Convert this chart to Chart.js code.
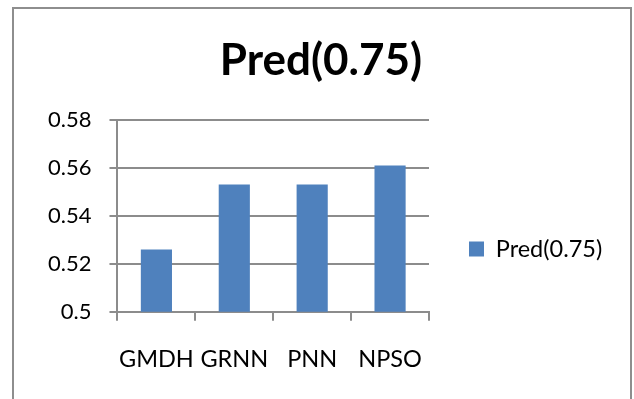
<!DOCTYPE html>
<html>
<head>
<meta charset="utf-8">
<script src="https://cdn.jsdelivr.net/npm/chart.js@4.4.1/dist/chart.umd.min.js"></script>
<style>
  html, body { margin: 0; padding: 0; background: #ffffff; }
  #wrap { position: relative; width: 634px; height: 399px; overflow: hidden; }
  #frame { position: absolute; left: 12px; top: 7px; width: 616px; height: 420px; border: 2px solid #8e8e8e; box-sizing: content-box; }
  #c { position: absolute; left: 0; top: 0; }
</style>
</head>
<body>
<div id="wrap">
  <div id="frame"></div>
  <canvas id="c" width="634" height="399"></canvas>
</div>
<script>
const chartTitle = 'Pred(0.75)';
const seriesName = 'Pred(0.75)';
const categories = ['GMDH', 'GRNN', 'PNN', 'NPSO'];
const predValues = [0.526, 0.553, 0.553, 0.561];
const yTickLabels = ['0.5', '0.52', '0.54', '0.56', '0.58'];

const FONT = 'Lato, "Open Sans", "DejaVu Sans", sans-serif';
const GRID = '#8c8c8c';

// Nudges the title and legend boxes after Chart.js has laid them out
const boxOffset = {
  id: 'boxOffset',
  afterLayout(chart, args, opts) {
    const l = chart.legend;
    if (l) {
      l.left += opts.legendDx; l.right += opts.legendDx + 30;
      l.top += opts.legendDy; l.bottom += opts.legendDy;
    }
    const t = chart.titleBlock;
    if (t) {
      t.left += opts.titleDx; t.right += opts.titleDx;
    }
  }
};

new Chart(document.getElementById('c'), {
  type: 'bar',
  data: {
    labels: categories,
    datasets: [{
      label: seriesName,
      data: predValues,
      backgroundColor: '#4f81bd',
      borderWidth: 0,
      categoryPercentage: 1.0,
      barPercentage: 0.4
    }]
  },
  options: {
    responsive: false,
    animation: false,
    devicePixelRatio: 1,
    layout: { padding: { left: 30, right: 72, top: 0, bottom: 1 } },
    plugins: {
      title: {
        display: true,
        text: chartTitle,
        color: '#000000',
        font: { family: FONT, size: 44, weight: 'bold' },
        padding: { top: 34, bottom: 33 }
      },
      legend: {
        display: true,
        position: 'right',
        labels: {
          color: '#000000',
          font: { family: FONT, size: 23.5 },
          boxWidth: 15,
          boxHeight: 15,
          padding: 10
        }
      },
      boxOffset: { legendDx: 30, legendDy: 50, titleDx: 25 },
      tooltip: { enabled: false }
    },
    scales: {
      x: {
        offset: true,
        grid: {
          display: true,
          offset: true,
          drawOnChartArea: false,
          drawTicks: true,
          tickLength: 9,
          color: GRID,
          lineWidth: 2
        },
        border: { display: true, color: GRID, width: 2 },
        ticks: {
          color: '#000000',
          font: { family: FONT, size: 23.5 },
          padding: 24.5,
          maxRotation: 0,
          autoSkip: false
        }
      },
      y: {
        min: 0.5,
        max: 0.58,
        grid: {
          display: true,
          drawTicks: true,
          tickLength: 8,
          color: GRID,
          lineWidth: 2
        },
        border: { display: true, color: GRID, width: 2 },
        ticks: {
          stepSize: 0.02,
          color: '#000000',
          font: { family: FONT, size: 22 },
          padding: 18,
          callback: (v, i) => yTickLabels[i]
        }
      }
    }
  },
  plugins: [boxOffset]
});
</script>
</body>
</html>
